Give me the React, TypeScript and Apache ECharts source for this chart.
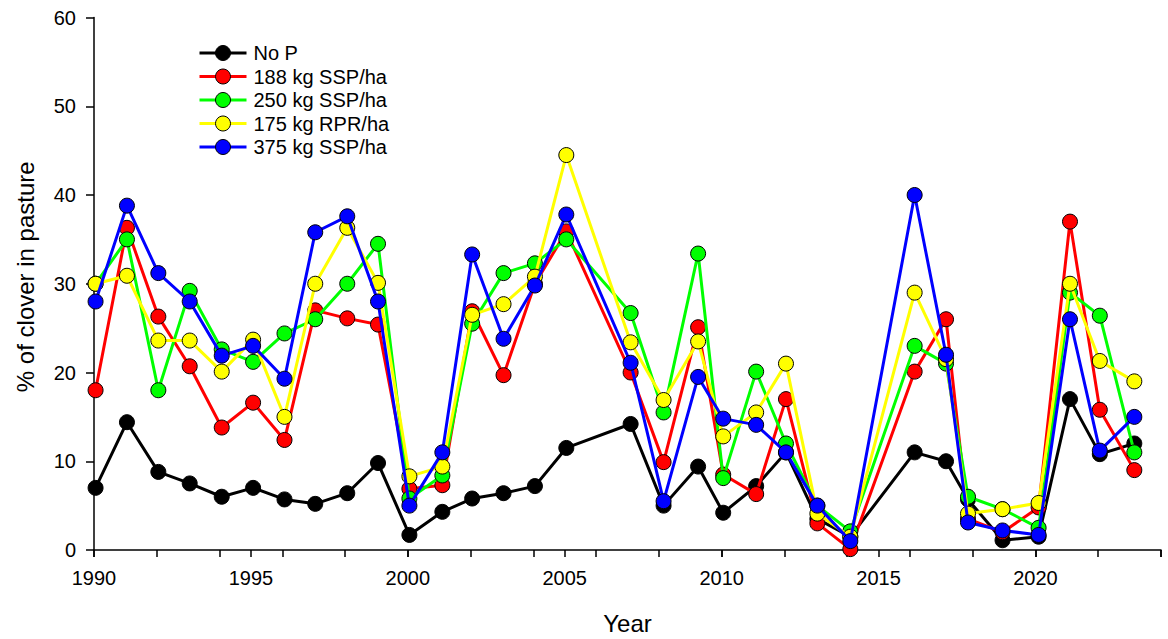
import React, { useEffect, useRef } from "react";
import * as echarts from "echarts";

const years = [
  1990.05, 1991.05, 1992.05, 1993.05, 1994.07, 1995.07, 1996.07, 1997.05, 1998.07, 1999.05,
  2000.05, 2001.1, 2002.05, 2003.05, 2004.05, 2005.05, 2007.1, 2008.15, 2009.25, 2010.05,
  2011.1, 2012.05, 2013.05, 2014.1, 2016.15, 2017.15, 2017.85, 2018.95, 2020.1, 2021.1,
  2022.05, 2023.15,
];

const noP = [
  7.0, 14.4, 8.8, 7.5, 6.0, 7.0, 5.7, 5.2, 6.4, 9.8,
  1.7, 4.3, 5.8, 6.4, 7.2, 11.5, 14.2, 5.0, 9.4, 4.2,
  7.2, 11.0, 3.5, 1.5, 11.0, 10.0, 5.7, 1.1, 1.5, 17.0,
  10.8, 12.0,
];

const ssp188 = [
  18.0, 36.3, 26.3, 20.7, 13.8, 16.6, 12.4, 27.0, 26.1, 25.4,
  6.9, 7.3, 26.9, 19.7, 30.0, 35.9, 20.0, 9.9, 25.1, 8.5,
  6.3, 17.0, 3.0, 0.1, 20.1, 26.0, 3.5, 2.0, 4.8, 37.0,
  15.8, 9.0,
];

const ssp250 = [
  30.0, 35.0, 18.0, 29.2, 22.6, 21.2, 24.4, 26.0, 30.0, 34.5,
  5.8, 8.4, 25.5, 31.2, 32.3, 35.0, 26.7, 15.5, 33.4, 8.1,
  20.1, 12.0, 5.0, 2.1, 23.0, 21.0, 6.0, 4.6, 2.5, 29.0,
  26.4, 11.0,
];

const rpr175 = [
  30.0, 30.9, 23.6, 23.6, 20.1, 23.7, 15.0, 30.0, 36.3, 30.1,
  8.3, 9.4, 26.5, 27.7, 30.8, 44.5, 23.4, 16.9, 23.5, 12.8,
  15.5, 21.0, 4.1, 1.5, 29.0, 21.5, 4.1, 4.6, 5.3, 30.0,
  21.3, 19.0,
];

const ssp375 = [
  28.0, 38.8, 31.2, 28.0, 21.9, 23.0, 19.3, 35.8, 37.6, 28.0,
  5.0, 11.0, 33.3, 23.8, 29.8, 37.8, 21.1, 5.5, 19.5, 14.8,
  14.1, 11.0, 5.0, 1.0, 40.0, 22.0, 3.1, 2.2, 1.7, 26.0,
  11.2, 15.0,
];

const seriesNames = ["No P", "188 kg SSP/ha", "250 kg SSP/ha", "175 kg RPR/ha", "375 kg SSP/ha"];
const seriesColors = ["#000000", "#ff0000", "#00ff00", "#ffff00", "#0000ff"];
const seriesValues = [noP, ssp188, ssp250, rpr175, ssp375];

const FONT = "'Liberation Sans', Arial, Helvetica, sans-serif";

export default function App() {
  const ref = useRef<HTMLDivElement>(null);

  useEffect(() => {
    if (!ref.current) return;
    const chart = echarts.init(ref.current, undefined, { renderer: "svg" });

    const series = seriesValues.map((vals, i) => ({
      name: seriesNames[i],
      type: "line",
      xAxisIndex: 0,
      data: vals.map((v, j) => [years[j], v]),
      symbol: "circle",
      symbolSize: 15,
      lineStyle: { color: seriesColors[i], width: 3 },
      itemStyle: {
        color: seriesColors[i],
        borderColor: "#000000",
        borderWidth: 1,
      },
      emphasis: { disabled: true },
      z: 2 + i,
    }));

    chart.setOption({
      animation: false,
      backgroundColor: "#ffffff",
      textStyle: { fontFamily: FONT },
      grid: {
        left: 94,
        right: 7,
        top: 17.5,
        bottom: 89,
        containLabel: false,
        outerBoundsMode: "none",
      },
      legend: {
        orient: "vertical",
        left: 193,
        top: 38,
        itemWidth: 47,
        itemHeight: 18.75,
        itemGap: 3.5,
        data: seriesNames,
        lineStyle: { width: 3 },
        itemStyle: { borderColor: "#000", borderWidth: 1 },
        textStyle: {
          fontFamily: FONT,
          fontSize: 20,
          color: "#000000",
          padding: [0, 0, 0, 2],
        },
        selectedMode: false,
      },
      xAxis: [
        {
          type: "value",
          min: 1990,
          max: 2024,
          interval: 2,
          position: "bottom",
          axisLine: { show: true, onZero: false, lineStyle: { color: "#000", width: 1.5 } },
          axisTick: { show: true, length: 7, lineStyle: { color: "#000", width: 1.5 } },
          axisLabel: { show: false },
          splitLine: { show: false },
        },
        {
          type: "value",
          min: 1990,
          max: 2024,
          interval: 5,
          position: "bottom",
          name: "Year",
          nameLocation: "middle",
          nameGap: 61,
          nameTextStyle: { fontFamily: FONT, fontSize: 24, color: "#000" },
          axisLine: { show: false, onZero: false },
          axisTick: { show: true, length: 7, lineStyle: { color: "#000", width: 1.5 } },
          axisLabel: {
            fontFamily: FONT,
            fontSize: 20,
            color: "#000",
            margin: 18,
            formatter: (v: number) => (v % 5 === 0 ? String(v) : ""),
          },
          splitLine: { show: false },
        },
      ],
      yAxis: {
        type: "value",
        min: 0,
        max: 60,
        interval: 10,
        name: "% of clover in pasture",
        nameLocation: "middle",
        nameGap: 57,
        nameTextStyle: { fontFamily: FONT, fontSize: 24, color: "#000", padding: [0, 0, 0, 14] },
        axisLine: { show: true, lineStyle: { color: "#000", width: 1.5 } },
        axisTick: { show: true, length: 8, lineStyle: { color: "#000", width: 1.5 } },
        axisLabel: { fontFamily: FONT, fontSize: 20, color: "#000", margin: 18 },
        splitLine: { show: false },
      },
      series,
    });

    return () => {
      chart.dispose();
    };
  }, []);

  return (
    <div
      ref={ref}
      style={{ position: "fixed", left: 0, top: 0, width: 1168, height: 639, background: "#fff" }}
    />
  );
}
